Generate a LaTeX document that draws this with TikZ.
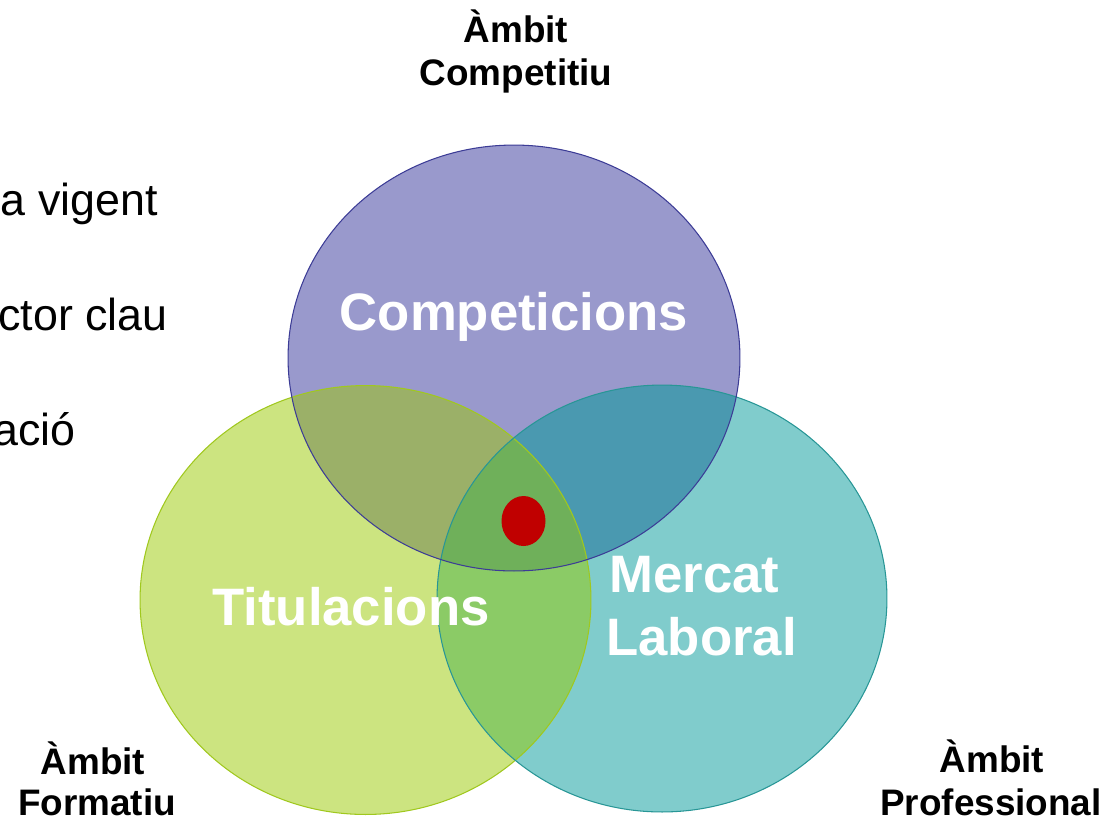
\documentclass[tikz,border=0pt]{standalone}
\usepackage{fontspec}
\setmainfont{Liberation Sans}
\definecolor{cP}{RGB}{153,153,204}
\definecolor{cG}{RGB}{204,228,128}
\definecolor{cT}{RGB}{128,204,204}
\definecolor{cPG}{RGB}{155,176,104}
\definecolor{cPT}{RGB}{74,153,176}
\definecolor{cGT}{RGB}{139,203,102}
\definecolor{cPGT}{RGB}{111,176,90}
\definecolor{bP}{RGB}{60,60,150}
\definecolor{bG}{RGB}{160,200,30}
\definecolor{bT}{RGB}{40,150,150}
\definecolor{dotred}{RGB}{192,0,0}
\tikzset{
  big/.style={font=\fontsize{30}{34}\selectfont\bfseries, text=white, inner sep=0pt},
  hdr/.style={font=\fontsize{21}{25}\selectfont\bfseries, text=black, inner sep=0pt},
  side/.style={font=\fontsize{25.5}{30}\selectfont, text=black, inner sep=0pt, anchor=base east},
}
\begin{document}
\begin{tikzpicture}[x=0.02cm,y=-0.02cm]
\useasboundingbox (0,0) rectangle (1115,823);
\coordinate (cp) at (514,358);
\coordinate (cg) at (365.5,600);
\coordinate (ct) at (662,598.5);
\def\pP{(cp) ellipse [x radius=4.52cm, y radius=4.26cm]}
\def\pG{(cg) ellipse [x radius=4.51cm, y radius=4.29cm]}
\def\pT{(ct) ellipse [x radius=4.50cm, y radius=4.27cm]}
% fills
\fill[cP] \pP;
\fill[cG] \pG;
\fill[cT] \pT;
\begin{scope}
  \clip \pP;
  \fill[cPG] \pG;
  \fill[cPT] \pT;
\end{scope}
\begin{scope}
  \clip \pG;
  \fill[cGT] \pT;
\end{scope}
\begin{scope}
  \clip \pP;
  \clip \pG;
  \fill[cPGT] \pT;
\end{scope}
% outlines
\draw[bG, line width=0.6pt] \pG;
\draw[bT, line width=0.6pt] \pT;
\draw[bP, line width=0.6pt] \pP;
% red dot
\fill[dotred] (523.5,521) ellipse [x radius=0.44cm, y radius=0.5cm];
\node[draw=none, inner sep=0pt, minimum size=0pt] (dot) at (523.5,521) {};
% labels in circles
\node[big, anchor=base] (comp) at (514,330) {Competicions};
\node[big, anchor=base] (titu) at (351,625) {Titulacions};
\node[big, anchor=base west] (merc) at (609,592) {Mercat};
\node[big, anchor=base west] (labo) at (606,655) {Laboral};
% headers
\node[hdr, anchor=base] (h1a) at (516,42) {Àmbit};
\node[hdr, anchor=base] (h1b) at (516,85) {Competitiu};
\node[hdr, anchor=base] (h2a) at (93,774) {Àmbit};
\node[hdr, anchor=base] (h2b) at (97,815) {Formatiu};
\node[hdr, anchor=base] (h3a) at (992,772) {Àmbit};
\node[hdr, anchor=base] (h3b) at (991,815) {Professional};
% cut-off side text
\node[side] (s1) at (158,215) {a vigent};
\node[side] (s2) at (168,330) {ctor clau};
\node[side] (s3) at (76,445) {ació};
\end{tikzpicture}
\end{document}
